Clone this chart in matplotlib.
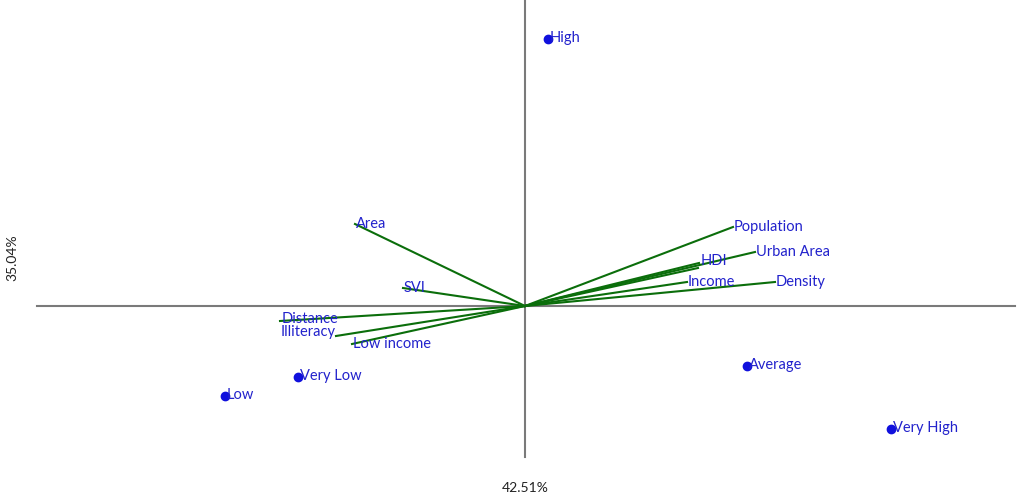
#biplot: variabili (frecce) e classi (punti)

import numpy as np
import matplotlib.pyplot as plt

plt.rcParams['figure.dpi'] = 100
plt.rcParams['font.family'] = ['Lato', 'DejaVu Sans']

# vettori delle variabili
var_names = ['Area', 'SVI', 'Distance', 'Illiteracy', 'Low income',
             'Population', 'Urban Area', 'HDI', '', 'Income', 'Density']
var_x = [-1.70, -1.22, -2.45, -1.89, -1.73, 2.08, 2.30, 1.74, 1.73, 1.62, 2.50]
var_y = [0.82, 0.18, -0.15, -0.30, -0.38, 0.79, 0.54, 0.43, 0.38, 0.24, 0.24]

# classi
cls_names = ['High', 'Low', 'Very Low', 'Average', 'Very High']
cls_x = [0.23, -3.00, -2.27, 2.22, 3.66]
cls_y = [2.67, -0.90, -0.71, -0.60, -1.23]

xlab = '42.51%'
ylab = '35.04%'

# spostamenti etichette (pixel)
off = {'Illiteracy': (-55, 5), 'Distance': (2, 3), 'HDI': (2, 3)}

fig = plt.figure(figsize=(10.21, 5.02))
ax = fig.add_axes([0, 0, 1, 1])
ax.set_xlim(-5.25, 4.96)
ax.set_ylim(-1.95, 3.07)
ax.axis('off')

ax.plot([-4.88, 4.90], [0, 0], color='#7a7a7a', lw=1.5, zorder=1)
ax.plot([0, 0], [-1.51, 3.07], color='#7a7a7a', lw=1.5, zorder=1)

blue = '#2222cc'
green = '#0b6e0b'
for n, x, y in zip(var_names, var_x, var_y):
    ax.plot([0, x], [0, y], color=green, lw=1.5, zorder=2)
    if n:
        dx, dy = off.get(n, (1, 1))
        ax.annotate(n, (x, y), xytext=(dx, dy), textcoords='offset pixels',
                    color=blue, fontsize=10.5, ha='left', va='center')

ax.plot(cls_x, cls_y, 'o', color='#1010dd', ms=6, zorder=3)
for n, x, y in zip(cls_names, cls_x, cls_y):
    ax.annotate(n, (x, y), xytext=(2, 2), textcoords='offset pixels',
                color=blue, fontsize=10.5, ha='left', va='center')

fig.text(525/1021, 1 - 488/502, xlab, ha='center', va='center', fontsize=10, color='#222222')
fig.text(12/1021, 1 - 258/502, ylab, ha='center', va='center', rotation=90, fontsize=10, color='#222222')

plt.savefig('out.png')
